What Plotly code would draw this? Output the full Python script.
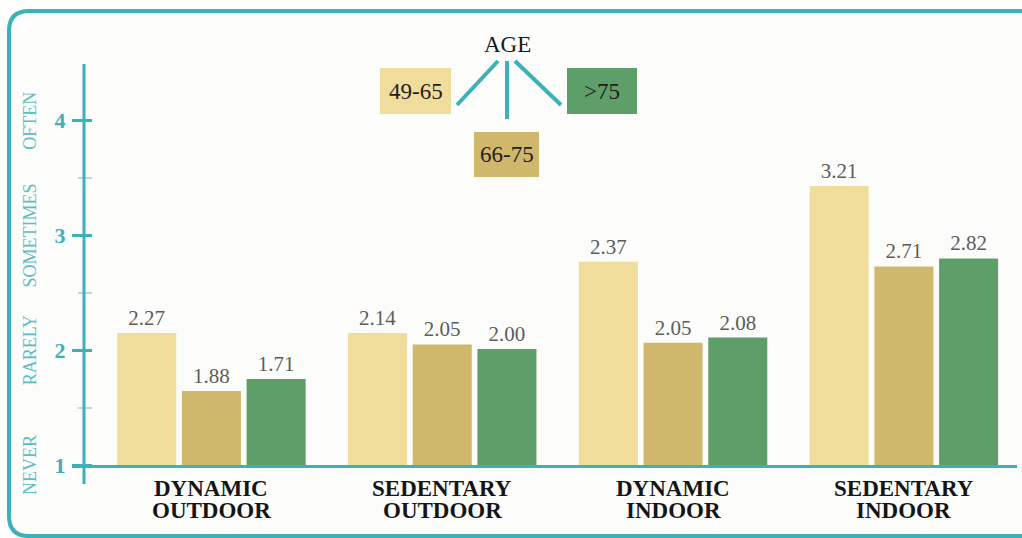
import plotly.graph_objects as go

# ---------------- data ----------------
categories = ["DYNAMIC<br>OUTDOOR", "SEDENTARY<br>OUTDOOR", "DYNAMIC<br>INDOOR", "SEDENTARY<br>INDOOR"]
age_groups = ["49-65", "66-75", ">75"]
# bar heights as drawn in the picture
heights_49_65 = [2.15, 2.15, 2.77, 3.43]
heights_66_75 = [1.645, 2.05, 2.065, 2.73]
heights_gt75 = [1.75, 2.01, 2.11, 2.80]
# values printed above the bars
labels_49_65 = ["2.27", "2.14", "2.37", "3.21"]
labels_66_75 = ["1.88", "2.05", "2.05", "2.71"]
labels_gt75 = ["1.71", "2.00", "2.08", "2.82"]
y_tick_vals = [1, 2, 3, 4]
y_tick_text = ["1", "2", "3", "4"]
frequency_labels = ["NEVER", "RARELY", "SOMETIMES", "OFTEN"]

colors = ["#f1dd9b", "#cfb76c", "#5e9f69"]
TEAL = "#3db0b9"
TEAL_LIGHT = "#5bbdc5"
SERIF = '"Liberation Serif", "Times New Roman", Times, serif'

# ---------------- geometry helpers ----------------
W, H = 1022, 538
L, R, T, B = 72, 5, 64, 73
PW, PH = W - L - R, H - T - B


def px(x):
    return (x - L) / PW


def py(y):
    return (H - B - y) / PH


fig = go.Figure()
series = [(heights_49_65, labels_49_65), (heights_66_75, labels_66_75), (heights_gt75, labels_gt75)]
for name, (h, lab), c in zip(age_groups, series, colors):
    fig.add_trace(go.Bar(
        x=categories, y=h, name=name, marker=dict(color=c, line=dict(width=0)),
        text=lab, textposition="outside", cliponaxis=False,
        textfont=dict(family=SERIF, size=21, color="#5c5c5c"),
        hoverinfo="skip",
    ))

shapes = []
# panel background and open rounded frame (left, top and bottom edges)
r = 20
x0f, y0f, x1f, y1f = 9, 11, 1022, 536
shapes.append(dict(type="rect", xref="paper", yref="paper", x0=px(x0f + 2), x1=px(x1f),
                   y0=py(y1f), y1=py(y0f + 2), fillcolor="#fcfcfa", line=dict(width=0), layer="below"))
frame = (f"M {px(x1f)},{py(y1f)} L {px(x0f + r)},{py(y1f)} "
         f"Q {px(x0f)},{py(y1f)} {px(x0f)},{py(y1f - r)} "
         f"L {px(x0f)},{py(y0f + r)} Q {px(x0f)},{py(y0f)} {px(x0f + r)},{py(y0f)} "
         f"L {px(x1f)},{py(y0f)}")
shapes.append(dict(type="path", path=frame, xref="paper", yref="paper",
                   line=dict(color=TEAL, width=4), fillcolor="rgba(0,0,0,0)", layer="below"))
# y axis line
shapes.append(dict(type="line", xref="paper", yref="paper", x0=px(84), x1=px(84),
                   y0=py(484), y1=py(64), line=dict(color=TEAL, width=3)))
# legend boxes
boxes = [(380, 68, 451, 114), (474, 132, 539, 177), (567, 68, 637, 114)]
for (bx0, by0, bx1, by1), c in zip(boxes, colors):
    shapes.append(dict(type="rect", xref="paper", yref="paper", x0=px(bx0), x1=px(bx1),
                       y0=py(by1), y1=py(by0), fillcolor=c, line=dict(width=0)))
# legend connector lines
for (lx0, ly0, lx1, ly1) in [(498, 61, 457, 105), (507, 61, 507, 119), (515, 61, 561, 105)]:
    shapes.append(dict(type="line", xref="paper", yref="paper", x0=px(lx0), y0=py(ly0),
                       x1=px(lx1), y1=py(ly1), line=dict(color=TEAL, width=4)))

annotations = []
# category labels (two lines)
for cat in categories:
    l1, l2 = cat.split("<br>")
    for txt, yc in [(l1, 488.5), (l2, 510.5)]:
        annotations.append(dict(x=cat, xref="x", y=py(yc), yref="paper", text=txt,
                                showarrow=False, xanchor="center", yanchor="middle",
                                font=dict(family=SERIF, size=23, color="#151515", weight="bold")))
# frequency labels along the y axis
for v, t in zip(y_tick_vals, frequency_labels):
    annotations.append(dict(x=px(30), xref="paper", y=v, yref="y", text=t, textangle=-90,
                            showarrow=False, xanchor="center", yanchor="middle",
                            font=dict(family=SERIF, size=18, color=TEAL_LIGHT)))
# legend title and labels
annotations.append(dict(x=px(507), xref="paper", y=py(45), yref="paper", text="AGE",
                        showarrow=False, xanchor="center", yanchor="middle",
                        font=dict(family=SERIF, size=23, color="#1a1a1a")))
for (bx0, by0, bx1, by1), name in zip(boxes, age_groups):
    annotations.append(dict(x=px((bx0 + bx1) / 2), xref="paper", y=py((by0 + by1) / 2), yref="paper",
                            text=name.replace(">", "&gt;"), showarrow=False, xanchor="center", yanchor="middle",
                            font=dict(family=SERIF, size=23, color="#1e1e1e")))

fig.update_layout(
    width=W, height=H, margin=dict(l=L, r=R, t=T, b=B, autoexpand=False),
    paper_bgcolor="white", plot_bgcolor="rgba(0,0,0,0)",
    barmode="group", bargap=0.159, bargroupgap=0.088,
    showlegend=False, shapes=shapes, annotations=annotations,
    font=dict(family=SERIF),
    xaxis=dict(range=[-0.604, 3.490], showticklabels=False, ticks="", showgrid=False,
               zeroline=False, showline=True, linecolor=TEAL, linewidth=3, fixedrange=True),
    yaxis=dict(range=[1, 1 + PH / 114.77], anchor="free", position=px(92),
               tickvals=y_tick_vals, ticktext=y_tick_text, ticks="outside", ticklen=20,
               tickwidth=3, tickcolor=TEAL, showline=False, showgrid=False, zeroline=False,
               ticklabelstandoff=2,
               tickfont=dict(family=SERIF, size=22, color=TEAL, weight="bold"),
               minor=dict(tickvals=[1.5, 2.5, 3.5], ticks="outside", ticklen=14, tickwidth=1.5,
                          tickcolor="#b3dde0", showgrid=False),
               fixedrange=True),
)

fig.write_html("out.html")
